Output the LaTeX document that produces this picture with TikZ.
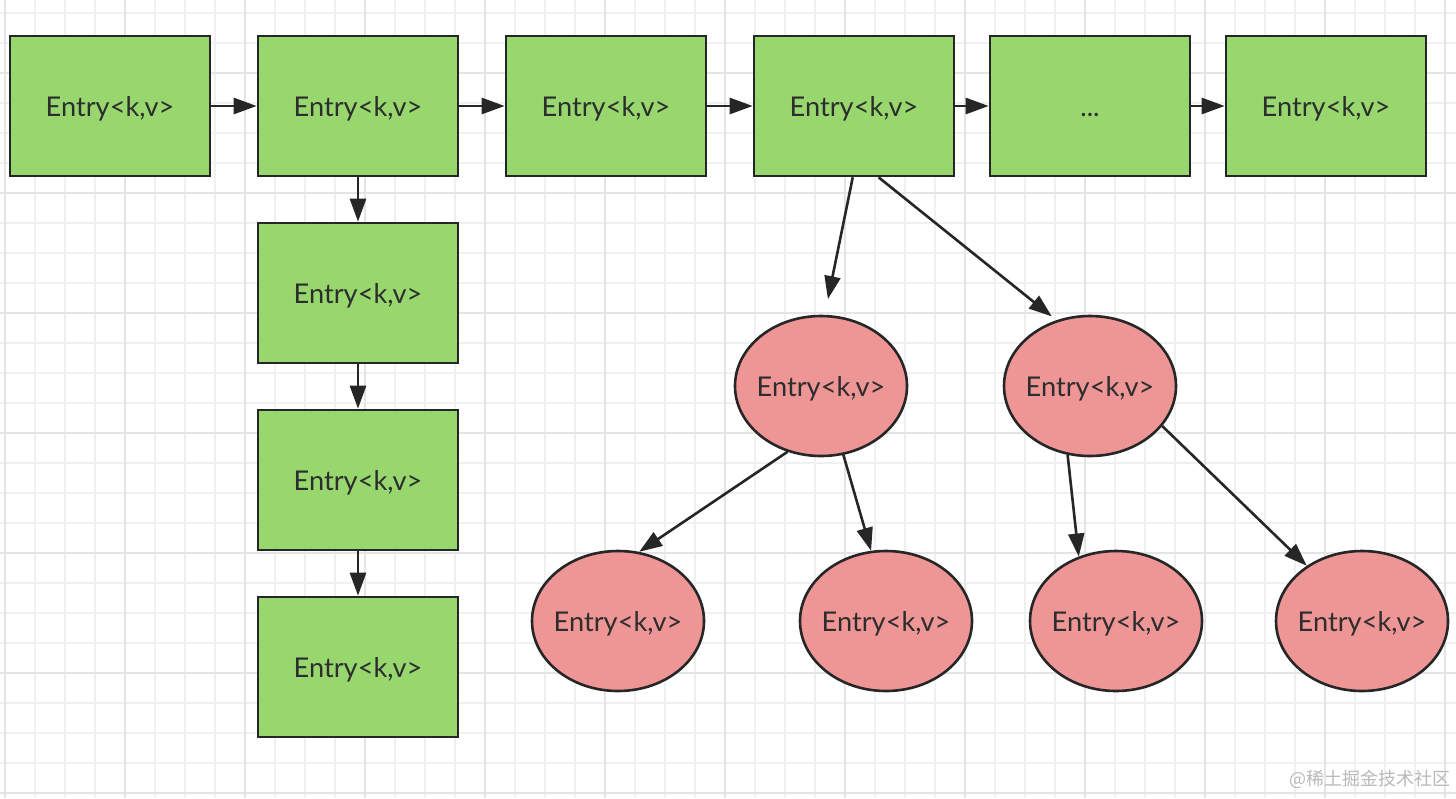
\documentclass[tikz,border=0pt]{standalone}
\usepackage{fontspec}
\setmainfont{Lato}
\newfontfamily\cjkfont{Noto Sans CJK SC}
\usetikzlibrary{arrows.meta,shapes.geometric,calc}
\definecolor{boxgreen}{RGB}{151,215,110}
\definecolor{nodered}{RGB}{238,149,149}
\definecolor{strokec}{RGB}{38,38,38}
\definecolor{textc}{RGB}{45,45,45}
\definecolor{gridminor}{RGB}{240,240,240}
\definecolor{gridmajor}{RGB}{228,228,228}
\definecolor{wmark}{RGB}{185,185,185}
\tikzset{
  entrybox/.style={draw=strokec, line width=1.3pt, fill=boxgreen, rectangle,
    minimum width=100pt, minimum height=70pt, inner sep=0pt, text=textc,
    text height=0.72em+3pt, text depth=0pt,
    font=\fontsize{13.6}{16}\selectfont},
  entryell/.style={draw=strokec, line width=1.3pt, fill=nodered, ellipse,
    minimum width=86pt, minimum height=70pt, inner ysep=0pt, inner xsep=-2pt, text=textc,
    text height=0.72em+3pt, text depth=0pt,
    font=\fontsize{13.6}{16}\selectfont},
  link/.style={draw=strokec, line width=1.3pt, -{Triangle[length=11.5pt,width=8pt]}},
}
\begin{document}
\begin{tikzpicture}[x=0.5pt,y=-0.5pt]
\useasboundingbox (0,0) rectangle (1456,798);
\fill[white] (0,0) rectangle (1456,798);
% grid
\foreach \gx in {5,35,...,1455} {\draw[gridminor, line width=0.9pt] (\gx,0) -- (\gx,798);}
\foreach \gy in {13,43,...,793} {\draw[gridminor, line width=0.9pt] (0,\gy) -- (1456,\gy);}
\foreach \gx in {5,125,...,1445} {\draw[gridmajor, line width=1pt] (\gx,0) -- (\gx,798);}
\foreach \gy in {73,193,...,793} {\draw[gridmajor, line width=1pt] (0,\gy) -- (1456,\gy);}
% top row
\node[entrybox] (b1) at (110,106) {Entry<k,v>};
\node[entrybox] (b2) at (358,106) {Entry<k,v>};
\node[entrybox] (b3) at (606,106) {Entry<k,v>};
\node[entrybox] (b4) at (854,106) {Entry<k,v>};
\node[entrybox] (b5) at (1090,106) {...};
\node[entrybox] (b6) at (1326,106) {Entry<k,v>};
% column
\node[entrybox] (c1) at (358,293) {Entry<k,v>};
\node[entrybox] (c2) at (358,480) {Entry<k,v>};
\node[entrybox] (c3) at (358,667) {Entry<k,v>};
% tree
\node[entryell] (e1) at (821,386) {Entry<k,v>};
\node[entryell] (e2) at (1090,386) {Entry<k,v>};
\node[entryell] (f1) at (618,621) {Entry<k,v>};
\node[entryell] (f2) at (886,621) {Entry<k,v>};
\node[entryell] (f3) at (1116,621) {Entry<k,v>};
\node[entryell] (f4) at (1362,621) {Entry<k,v>};
% connectors
\draw[link] (b1.east) -- (b2.west);
\draw[link] (b2.east) -- (b3.west);
\draw[link] (b3.east) -- (b4.west);
\draw[link] (b4.east) -- (b5.west);
\draw[link] (b5.east) -- (b6.west);
\draw[link] (b2.south) -- (c1.north);
\draw[link] (c1.south) -- (c2.north);
\draw[link] (c2.south) -- (c3.north);
\draw[link, shorten >=8pt] (b4.-91) -- (e1.87);
\draw[link, shorten >=3pt] (b4.-71) -- (e2.117);
\draw[link] (e1.243) -- (f1.73);
\draw[link] (e1.288) -- (f2.102);
\draw[link] (e2.252) -- (f3.120);
\draw[link] (e2.331) -- (f4.135);
% watermark
\node[text=wmark, font=\cjkfont\fontsize{9}{11}\selectfont, anchor=east, inner sep=0pt] (wm) at (1451,779) {@稀土掘金技术社区};
\end{tikzpicture}
\end{document}
